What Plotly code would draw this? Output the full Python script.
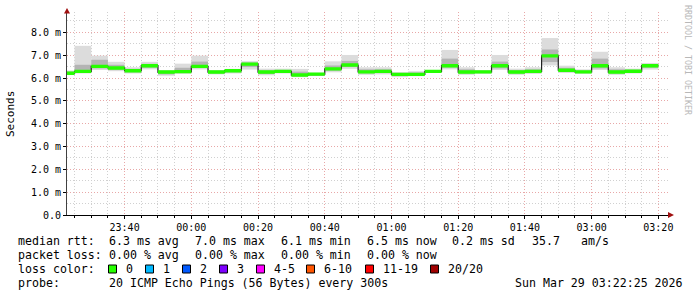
import plotly.graph_objects as go

# ---- data (minutes on a continuous scale, 0 = 23:00) ----
bin_start = [20, 25, 30, 35, 40, 45, 50, 55, 60, 65, 70, 75, 80, 85, 90, 95, 100, 105,
             110, 115, 120, 125, 130, 135, 140, 145, 150, 155, 160, 165, 170, 175, 180, 185, 190, 195]
median_ms = [6.21, 6.29, 6.51, 6.44, 6.32, 6.54, 6.26, 6.28, 6.51, 6.26, 6.32, 6.61, 6.26, 6.29,
             6.13, 6.17, 6.40, 6.57, 6.27, 6.29, 6.16, 6.16, 6.29, 6.54, 6.26, 6.27, 6.54, 6.26,
             6.29, 6.97, 6.34, 6.27, 6.54, 6.26, 6.30, 6.54]
ping_min = [6.13, 6.20, 6.35, 6.30, 6.20, 6.38, 6.10, 6.18, 6.38, 6.16, 6.20, 6.37, 6.12, 6.20,
            6.04, 6.10, 6.25, 6.40, 6.14, 6.16, 6.04, 6.08, 6.22, 6.38, 6.14, 6.18, 6.35, 6.14,
            6.18, 6.55, 6.22, 6.18, 6.35, 6.14, 6.20, 6.37]
ping_max = [6.33, 7.41, 6.98, 6.71, 6.47, 6.71, 6.35, 6.63, 6.98, 6.35, 6.40, 6.74, 6.41, 6.41,
            6.40, 6.23, 6.73, 7.01, 6.47, 6.47, 6.26, 6.30, 6.35, 7.23, 6.47, 6.35, 7.01, 6.41,
            6.47, 7.75, 6.54, 6.38, 7.15, 6.47, 6.41, 6.66]
ping_q1 = [6.17, 6.25, 6.42, 6.36, 6.25, 6.45, 6.16, 6.22, 6.44, 6.20, 6.25, 6.48, 6.18, 6.24,
           6.08, 6.13, 6.32, 6.48, 6.20, 6.22, 6.10, 6.12, 6.25, 6.46, 6.20, 6.22, 6.42, 6.20,
           6.23, 6.70, 6.28, 6.22, 6.42, 6.20, 6.24, 6.45]
ping_q3 = [6.28, 6.58, 6.80, 6.58, 6.40, 6.62, 6.30, 6.45, 6.72, 6.31, 6.36, 6.68, 6.33, 6.35,
           6.28, 6.20, 6.55, 6.75, 6.38, 6.38, 6.21, 6.24, 6.32, 6.85, 6.38, 6.31, 6.72, 6.34,
           6.38, 7.25, 6.45, 6.32, 6.85, 6.38, 6.36, 6.60]

x_tickvals = [40, 60, 80, 100, 120, 140, 160, 180, 200]
x_ticktext = ["23:40", "00:00", "00:20", "00:40", "01:00", "01:20", "01:40", "03:00", "03:20"]
y_tickvals = [0, 1, 2, 3, 4, 5, 6, 7, 8]
y_ticktext = ["0.0", "1.0 m", "2.0 m", "3.0 m", "4.0 m", "5.0 m", "6.0 m", "7.0 m", "8.0 m"]

loss_labels = ["0", "1", "2", "3", "4-5", "6-10", "11-19", "20/20"]
loss_colors = ["#26ff00", "#00b8ff", "#0059ff", "#7e00ff", "#ff00ff", "#ff5500", "#ff0000", "#a00000"]

# ---- layout geometry (pixels) ----
W, H = 697, 297
L, R, T, B = 67, 28, 12, 82
PW, PH = W - L - R, H - T - B
BIN = 5


def px(x):
    return (x - L) / PW


def py(y):
    return 1 - (y - T) / PH


centers = [s + BIN / 2 for s in bin_start]
step_x = bin_start + [bin_start[-1] + BIN]
MONO = "DejaVu Sans Mono"

fig = go.Figure()
fig.add_trace(go.Bar(x=centers, base=ping_min, y=[h - l for h, l in zip(ping_max, ping_min)],
                     width=BIN, marker=dict(color="#dcdcdc", line=dict(width=0)), hoverinfo="skip"))
fig.add_trace(go.Bar(x=centers, base=ping_q1, y=[h - l for h, l in zip(ping_q3, ping_q1)],
                     width=BIN, marker=dict(color="#b4b4b4", line=dict(width=0)), hoverinfo="skip"))
# median black line (vertical connectors stay visible)
fig.add_trace(go.Scatter(x=step_x, y=median_ms + [median_ms[-1]],
                         mode="lines", line=dict(color="#202020", width=1.2, shape="hv"), hoverinfo="skip"))
# loss-coloured band around the median, drawn on top
band = 0.15
lo_band = [m - band / 2 for m in median_ms]
hi_band = [m + band / 2 for m in median_ms]
fig.add_trace(go.Scatter(x=step_x, y=lo_band + [lo_band[-1]], mode="lines",
                         line=dict(width=0, shape="hv"), hoverinfo="skip"))
fig.add_trace(go.Scatter(x=step_x, y=hi_band + [hi_band[-1]], mode="lines",
                         line=dict(width=0, shape="hv"), fill="tonexty",
                         fillcolor=loss_colors[0], hoverinfo="skip"))

x0 = 40 - (124.6 - L) / 3.336
x1 = 40 + (W - R - 124.6) / 3.336

fig.update_layout(
    width=W, height=H, margin=dict(l=L, r=R, t=T, b=B, pad=0),
    paper_bgcolor="white", plot_bgcolor="white", showlegend=False, barmode="overlay",
    font=dict(family=MONO, size=10, color="#000000"),
    xaxis=dict(range=[x0, x1], tickvals=x_tickvals, ticktext=x_ticktext,
               showgrid=True, gridcolor="#e8a8a8", griddash="1px,2px", gridwidth=1,
               minor=dict(tick0=0, dtick=5, showgrid=True, gridcolor="#d0d0d0", griddash="1px,2px",
                          ticks="outside", ticklen=2, tickcolor="#000000"),
               ticks="outside", ticklen=3, tickcolor="#000000",
               showline=True, linecolor="#000000", linewidth=1, zeroline=False,
               tickfont=dict(family=MONO, size=10)),
    yaxis=dict(range=[0, (215 - T) / 22.83], tickvals=y_tickvals, ticktext=y_ticktext,
               showgrid=True, gridcolor="#e8a8a8", griddash="1px,2px", gridwidth=1,
               minor=dict(tick0=0, dtick=0.5, showgrid=True, gridcolor="#d0d0d0", griddash="1px,2px"),
               ticks="outside", ticklen=3, tickcolor="#000000",
               showline=True, linecolor="#404040", linewidth=1, zeroline=False,
               tickfont=dict(family=MONO, size=10)),
)

shapes = []
# axis arrows
shapes.append(dict(type="path", xref="paper", yref="paper",
                   path=f"M {px(64)} {py(13.5)} L {px(70)} {py(13.5)} L {px(67)} {py(8)} Z",
                   fillcolor="#a01010", line=dict(width=0)))
shapes.append(dict(type="path", xref="paper", yref="paper",
                   path=f"M {px(668)} {py(212)} L {px(668)} {py(218)} L {px(674)} {py(215)} Z",
                   fillcolor="#a01010", line=dict(width=0)))

ann = []


def text(x, y, s, size=11.6, color="#000000", **kw):
    ann.append(dict(x=px(x), y=py(y), xref="paper", yref="paper", text=s, showarrow=False,
                    xanchor=kw.pop("xanchor", "left"), yanchor=kw.pop("yanchor", "middle"),
                    font=dict(family=MONO, size=size, color=color), **kw))


text(10, 114, "Seconds", size=11, xanchor="center", textangle=-90)
text(688, 60, "RRDTOOL / TOBI OETIKER", size=8.3, color="#b8b8b8", xanchor="center", textangle=90)

# statistics lines
y1, y2, y3, y4 = 241, 255, 269, 283
text(16, y1, "median rtt:")
for xx, s in [(107, "6.3 ms avg"), (193, "7.0 ms max"), (279, "6.1 ms min"), (365, "6.5 ms now"),
              (450, "0.2 ms sd"), (530, "35.7"), (579, "am/s")]:
    text(xx, y1, s)
text(16, y2, "packet loss:")
for xx, s in [(107, "0.00 % avg"), (193, "0.00 % max"), (279, "0.00 % min"), (365, "0.00 % now")]:
    text(xx, y2, s)
text(16, y3, "loss color:")
box_x = [108.5, 145.5, 182.5, 219.5, 256.5, 306.5, 365.5, 430.5]
for bx, lab, col in zip(box_x, loss_labels, loss_colors):
    shapes.append(dict(type="rect", xref="paper", yref="paper",
                       x0=px(bx), x1=px(bx + 8), y0=py(273), y1=py(265),
                       fillcolor=col, line=dict(color="#000000", width=1)))
    text(bx + 15.5, y3, lab)
text(16, y4, "probe:")
text(107, y4, "20 ICMP Echo Pings (56 Bytes) every 300s")
text(513, y4, "Sun Mar 29 03:22:25 2026")

fig.update_layout(shapes=shapes, annotations=ann)
fig.write_html("out.html")
